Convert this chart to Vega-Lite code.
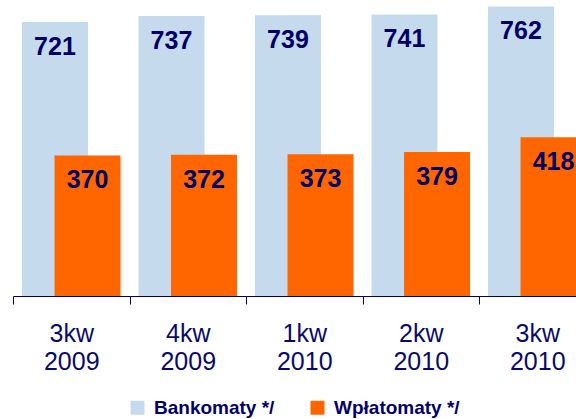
{
  "$schema": "https://vega.github.io/schema/vega-lite/v6.json",
  "width": 563,
  "height": 296,
  "autosize": {"type": "none"},
  "padding": {"left": 13, "top": 0, "right": 0, "bottom": 123},
  "background": "white",
  "config": {"view": {"stroke": null}, "font": "Liberation Sans"},
  "data": {
    "values": [
      {"kw": "3kw 2009", "seria": "Bankomaty */", "wartosc": 721},
      {"kw": "4kw 2009", "seria": "Bankomaty */", "wartosc": 737},
      {"kw": "1kw 2010", "seria": "Bankomaty */", "wartosc": 739},
      {"kw": "2kw 2010", "seria": "Bankomaty */", "wartosc": 741},
      {"kw": "3kw 2010", "seria": "Bankomaty */", "wartosc": 762},
      {"kw": "3kw 2009", "seria": "Wpłatomaty */", "wartosc": 370},
      {"kw": "4kw 2009", "seria": "Wpłatomaty */", "wartosc": 372},
      {"kw": "1kw 2010", "seria": "Wpłatomaty */", "wartosc": 373},
      {"kw": "2kw 2010", "seria": "Wpłatomaty */", "wartosc": 379},
      {"kw": "3kw 2010", "seria": "Wpłatomaty */", "wartosc": 418}
    ]
  },
  "encoding": {
    "x": {
      "field": "kw",
      "type": "nominal",
      "sort": null,
      "scale": {"range": [0, 582.5], "paddingInner": 0, "paddingOuter": 0},
      "axis": {
        "title": null,
        "labelAngle": 0,
        "labelExpr": "split(datum.label, ' ')",
        "labelFontSize": 25,
        "labelFont": "Liberation Sans",
        "labelColor": "#0A0A66",
        "labelLineHeight": 28,
        "labelPadding": 17,
        "labelBaseline": "top",
        "tickBand": "extent",
        "tickSize": 8,
        "tickColor": "#000066",
        "domainColor": "#000066",
        "grid": false
      }
    },
    "xOffset": {
      "field": "seria",
      "type": "nominal",
      "sort": null,
      "scale": {"paddingInner": 0, "paddingOuter": 0.79}
    },
    "y": {
      "field": "wartosc",
      "type": "quantitative",
      "scale": {"domain": [0, 779], "nice": false},
      "axis": null
    }
  },
  "layer": [
    {
      "mark": {"type": "bar", "width": 66},
      "encoding": {
        "color": {
          "field": "seria",
          "type": "nominal",
          "sort": null,
          "scale": {"domain": ["Bankomaty */", "Wpłatomaty */"], "range": ["#C6DAEE", "#FF6600"]},
          "legend": {
            "title": null,
            "orient": "none",
            "legendX": 115,
            "legendY": 398,
            "direction": "horizontal",
            "symbolType": "square",
            "symbolSize": 196,
            "symbolStrokeWidth": 0,
            "symbolOpacity": 1,
            "labelFontSize": 19,
            "labelFontWeight": "bold",
            "labelFont": "Liberation Sans",
            "labelColor": "#000066",
            "labelOffset": 7,
            "columnPadding": 33,
            "padding": 0
          }
        }
      }
    },
    {
      "mark": {
        "type": "text",
        "baseline": "alphabetic",
        "dy": 33,
        "fontSize": 25,
        "fontWeight": "bold",
        "font": "Liberation Sans",
        "color": "#000066"
      },
      "encoding": {"text": {"field": "wartosc", "type": "quantitative"}}
    }
  ]
}
